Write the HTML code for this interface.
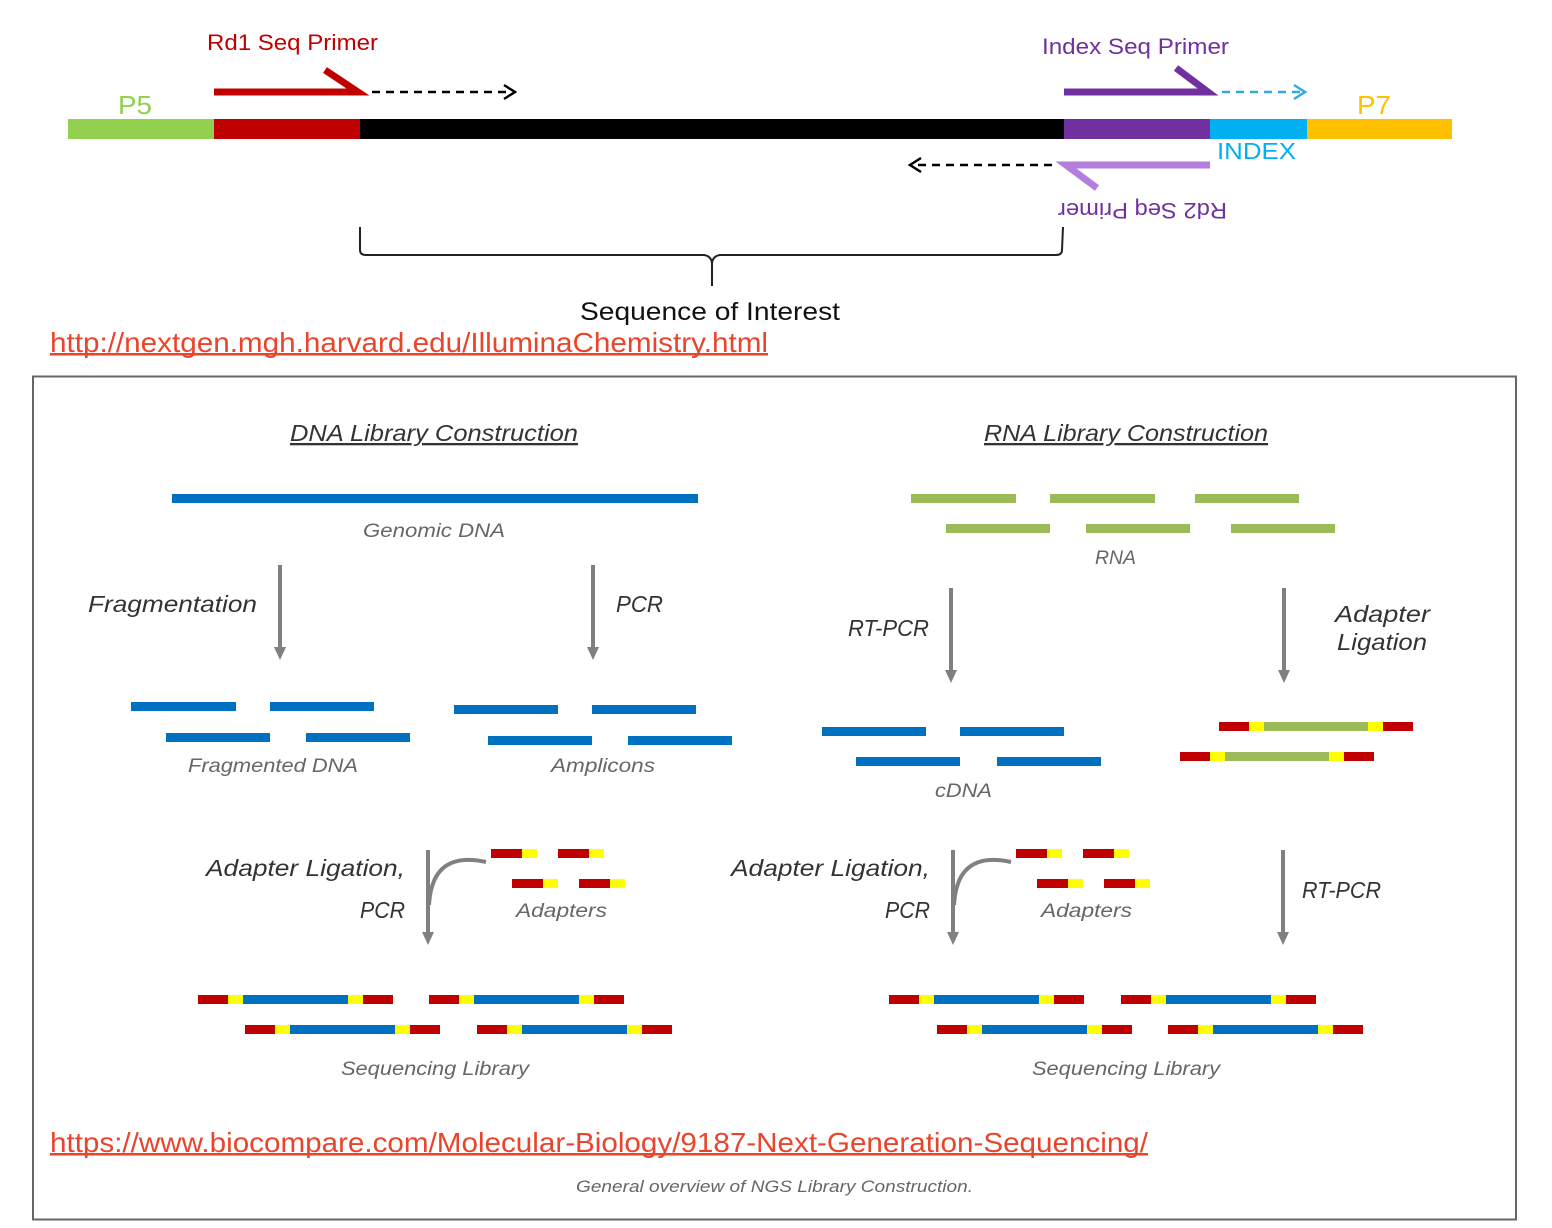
<!DOCTYPE html>
<html><head><meta charset="utf-8"><style>
html,body{margin:0;padding:0;background:#fff;}
svg{display:block;}
text{font-family:"Liberation Sans",sans-serif;}
.it{font-style:italic;fill:#333;}
.lbl{font-style:italic;fill:#666;font-size:19px;}
</style></head><body>
<svg width="1552" height="1228" viewBox="0 0 1552 1228" xmlns="http://www.w3.org/2000/svg">
<defs>
<g id="lib"><rect x="0" y="0" width="30" height="9" fill="#c00000"/><rect x="30" y="0" width="15" height="9" fill="#ffff00"/><rect x="45" y="0" width="105" height="9" fill="#0070c0"/><rect x="150" y="0" width="15" height="9" fill="#ffff00"/><rect x="165" y="0" width="30" height="9" fill="#c00000"/></g>
<g id="rlib"><rect x="0" y="0" width="30" height="9" fill="#c00000"/><rect x="30" y="0" width="15" height="9" fill="#ffff00"/><rect x="45" y="0" width="104" height="9" fill="#9bbb59"/><rect x="149" y="0" width="15" height="9" fill="#ffff00"/><rect x="164" y="0" width="30" height="9" fill="#c00000"/></g>
<g id="ad"><rect x="0" y="0" width="31" height="9" fill="#c00000"/><rect x="31" y="0" width="15" height="9" fill="#ffff00"/></g>
<g id="arr"><line x1="0" y1="0" x2="0" y2="84" stroke="#808080" stroke-width="4"/><polygon points="-6,82 6,82 0,95" fill="#808080"/></g>
</defs>

<rect x="68" y="119" width="146" height="20" fill="#92d050"/>
<rect x="214" y="119" width="146" height="20" fill="#c00000"/>
<rect x="360" y="119" width="704" height="20" fill="#000"/>
<rect x="1064" y="119" width="146" height="20" fill="#7030a0"/>
<rect x="1210" y="119" width="97" height="20" fill="#00b0f0"/>
<rect x="1307" y="119" width="145" height="20" fill="#ffc000"/>
<text x="118" y="114" font-size="26" fill="#92d050" textLength="34" lengthAdjust="spacingAndGlyphs">P5</text>
<text x="1357" y="114" font-size="26" fill="#ffc000" textLength="34" lengthAdjust="spacingAndGlyphs">P7</text>
<text x="1217" y="159" font-size="23" fill="#00b0f0" textLength="79" lengthAdjust="spacingAndGlyphs">INDEX</text>

<text x="207" y="50" font-size="22" fill="#c00000" textLength="171" lengthAdjust="spacingAndGlyphs">Rd1 Seq Primer</text>
<polyline points="214,92 358,92 325,70" fill="none" stroke="#c00000" stroke-width="7"/>
<line x1="372" y1="92" x2="512" y2="92" stroke="#000" stroke-width="2.5" stroke-dasharray="8,6"/>
<polyline points="504,85 515,92 504,99" fill="none" stroke="#000" stroke-width="2.5"/>

<text x="1042" y="54" font-size="22" fill="#7030a0" textLength="187" lengthAdjust="spacingAndGlyphs">Index Seq Primer</text>
<polyline points="1064,92 1208,92 1176,68" fill="none" stroke="#7030a0" stroke-width="7"/>
<line x1="1222" y1="92" x2="1300" y2="92" stroke="#35a8e0" stroke-width="2.5" stroke-dasharray="8,6"/>
<polyline points="1294,85 1305,92 1294,99" fill="none" stroke="#35a8e0" stroke-width="2.5"/>

<polyline points="1210,165 1066,165 1097,188" fill="none" stroke="#b57edc" stroke-width="7"/>
<line x1="1052" y1="165" x2="914" y2="165" stroke="#000" stroke-width="2.5" stroke-dasharray="8,6"/>
<polyline points="921,158 910,165 921,172" fill="none" stroke="#000" stroke-width="2.5"/>
<text x="1058" y="217" font-size="22" fill="#7030a0" textLength="169" lengthAdjust="spacingAndGlyphs" transform="rotate(180 1142.5 210)">Rd2 Seq Primer</text>

<path d="M360,227 L360,250 Q360,255 366,255 L704,255 Q711,256 712,263 L712,286 M712,263 Q713,256 720,255 L1056,255 Q1062,255 1062,250 L1063,227" fill="none" stroke="#222" stroke-width="2"/>
<text x="580" y="320" font-size="25" fill="#111" textLength="260" lengthAdjust="spacingAndGlyphs">Sequence of Interest</text>
<text x="50" y="352" font-size="28" fill="#e8452c" textLength="718" lengthAdjust="spacingAndGlyphs">http://nextgen.mgh.harvard.edu/IlluminaChemistry.html</text>
<rect x="50" y="353" width="718" height="2.5" fill="#e8452c"/>

<rect x="33" y="376.5" width="1483" height="843" fill="none" stroke="#666" stroke-width="2"/>

<text x="290" y="441" font-size="23" class="it" text-decoration="underline" textLength="288" lengthAdjust="spacingAndGlyphs">DNA Library Construction</text>
<text x="984" y="441" font-size="23" class="it" text-decoration="underline" textLength="284" lengthAdjust="spacingAndGlyphs">RNA Library Construction</text>

<rect x="172" y="494" width="526" height="9" fill="#0070c0"/>
<text x="363" y="537" class="lbl" textLength="142" lengthAdjust="spacingAndGlyphs">Genomic DNA</text>

<g fill="#9bbb59">
<rect x="911" y="494" width="105" height="9"/><rect x="1050" y="494" width="105" height="9"/><rect x="1195" y="494" width="104" height="9"/>
<rect x="946" y="524" width="104" height="9"/><rect x="1086" y="524" width="104" height="9"/><rect x="1231" y="524" width="104" height="9"/>
</g>
<text x="1095" y="564" class="lbl" textLength="41" lengthAdjust="spacingAndGlyphs">RNA</text>

<use href="#arr" x="280" y="565"/>
<use href="#arr" x="593" y="565"/>
<use href="#arr" x="951" y="588"/>
<use href="#arr" x="1284" y="588"/>
<text x="88" y="612" font-size="23" class="it" textLength="169" lengthAdjust="spacingAndGlyphs">Fragmentation</text>
<text x="616" y="612" font-size="23" class="it" textLength="47" lengthAdjust="spacingAndGlyphs">PCR</text>
<text x="848" y="636" font-size="23" class="it" textLength="81" lengthAdjust="spacingAndGlyphs">RT-PCR</text>
<text x="1335" y="622" font-size="23" class="it" textLength="95" lengthAdjust="spacingAndGlyphs">Adapter</text>
<text x="1337" y="650" font-size="23" class="it" textLength="90" lengthAdjust="spacingAndGlyphs">Ligation</text>

<g fill="#0070c0">
<rect x="131" y="702" width="105" height="9"/><rect x="270" y="702" width="104" height="9"/>
<rect x="166" y="733" width="104" height="9"/><rect x="306" y="733" width="104" height="9"/>
<rect x="454" y="705" width="104" height="9"/><rect x="592" y="705" width="104" height="9"/>
<rect x="488" y="736" width="104" height="9"/><rect x="628" y="736" width="104" height="9"/>
<rect x="822" y="727" width="104" height="9"/><rect x="960" y="727" width="104" height="9"/>
<rect x="856" y="757" width="104" height="9"/><rect x="997" y="757" width="104" height="9"/>
</g>
<text x="188" y="772" class="lbl" textLength="170" lengthAdjust="spacingAndGlyphs">Fragmented DNA</text>
<text x="551" y="772" class="lbl" textLength="104" lengthAdjust="spacingAndGlyphs">Amplicons</text>
<text x="935" y="797" class="lbl" textLength="57" lengthAdjust="spacingAndGlyphs">cDNA</text>
<use href="#rlib" x="1219" y="722"/>
<use href="#rlib" x="1180" y="752"/>

<use href="#arr" x="428" y="850"/>
<path d="M429,905 Q432,850 486,862" fill="none" stroke="#808080" stroke-width="4"/>
<text x="206" y="876" font-size="23" class="it" textLength="199" lengthAdjust="spacingAndGlyphs">Adapter Ligation,</text>
<text x="360" y="918" font-size="23" class="it" textLength="45" lengthAdjust="spacingAndGlyphs">PCR</text>
<use href="#ad" x="491" y="849"/><use href="#ad" x="558" y="849"/>
<use href="#ad" x="512" y="879"/><use href="#ad" x="579" y="879"/>
<text x="516" y="917" class="lbl" textLength="91" lengthAdjust="spacingAndGlyphs">Adapters</text>

<use href="#arr" x="953" y="850"/>
<path d="M954,905 Q957,850 1011,862" fill="none" stroke="#808080" stroke-width="4"/>
<text x="731" y="876" font-size="23" class="it" textLength="199" lengthAdjust="spacingAndGlyphs">Adapter Ligation,</text>
<text x="885" y="918" font-size="23" class="it" textLength="45" lengthAdjust="spacingAndGlyphs">PCR</text>
<use href="#ad" x="1016" y="849"/><use href="#ad" x="1083" y="849"/>
<use href="#ad" x="1037" y="879"/><use href="#ad" x="1104" y="879"/>
<text x="1041" y="917" class="lbl" textLength="91" lengthAdjust="spacingAndGlyphs">Adapters</text>

<use href="#arr" x="1283" y="850"/>
<text x="1302" y="898" font-size="23" class="it" textLength="79" lengthAdjust="spacingAndGlyphs">RT-PCR</text>

<use href="#lib" x="198" y="995"/><use href="#lib" x="429" y="995"/>
<use href="#lib" x="245" y="1025"/><use href="#lib" x="477" y="1025"/>
<use href="#lib" x="889" y="995"/><use href="#lib" x="1121" y="995"/>
<use href="#lib" x="937" y="1025"/><use href="#lib" x="1168" y="1025"/>
<text x="341" y="1075" class="lbl" textLength="188" lengthAdjust="spacingAndGlyphs">Sequencing Library</text>
<text x="1032" y="1075" class="lbl" textLength="188" lengthAdjust="spacingAndGlyphs">Sequencing Library</text>

<text x="50" y="1152" font-size="28" fill="#e8452c" textLength="1098" lengthAdjust="spacingAndGlyphs">https://www.biocompare.com/Molecular-Biology/9187-Next-Generation-Sequencing/</text>
<rect x="50" y="1153" width="1098" height="2.5" fill="#e8452c"/>
<text x="576" y="1192" class="lbl" style="font-size:17px" textLength="397" lengthAdjust="spacingAndGlyphs">General overview of NGS Library Construction.</text>
</svg>
</body></html>
